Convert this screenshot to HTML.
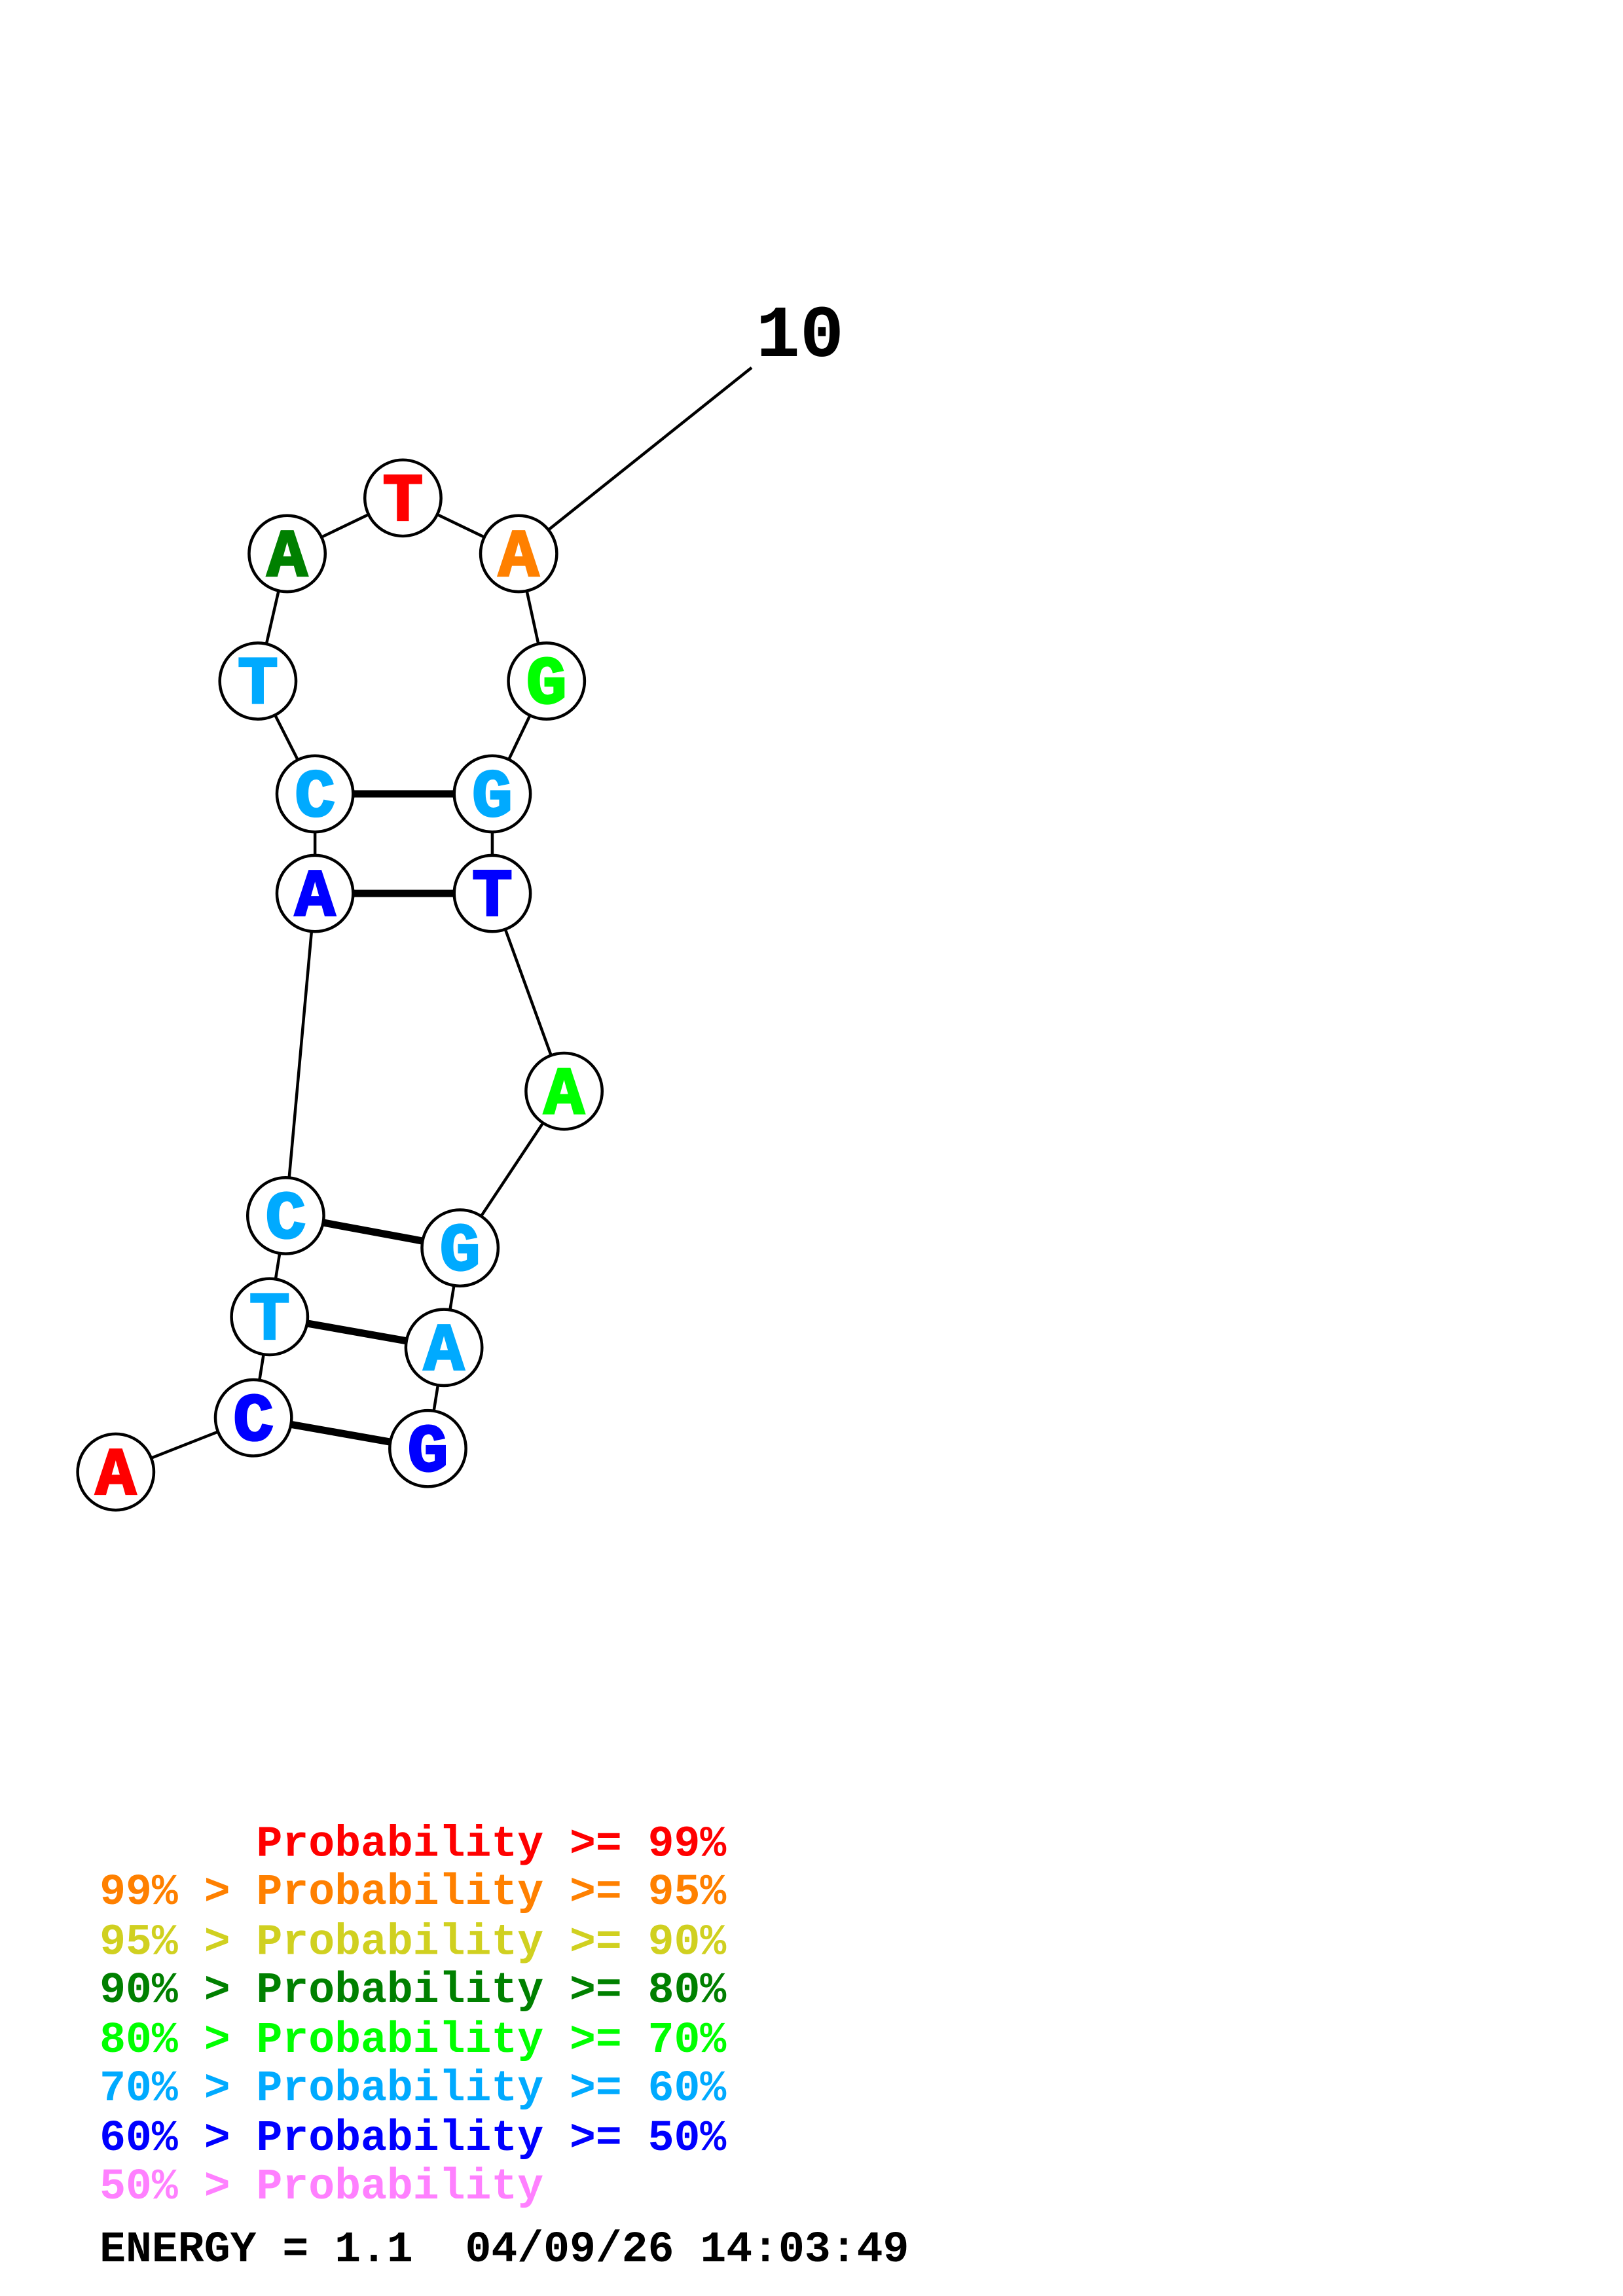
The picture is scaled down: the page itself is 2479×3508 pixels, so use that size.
<!DOCTYPE html>
<html><head><meta charset="utf-8"><style>html,body{margin:0;padding:0;background:#fff}svg{display:block}.pre{white-space:pre}</style></head>
<body>
<svg xmlns="http://www.w3.org/2000/svg" width="2479" height="3508" viewBox="0 0 1100 1556.6">
<rect width="1100" height="1556.6" fill="#fff"/>
<g transform="scale(0.993)">
<g stroke="#000" stroke-width="2" fill="none">
<polyline points="79,1005 173,968 184,899 195,830 215,610 215,542 176,465 196,378 275,340 354,378 373,465 336,542 336,610 385,745 314,852 303,920 292,989"/>
<line x1="354" y1="378" x2="513" y2="251"/>
</g>
<g stroke="#000" stroke-width="5">
<line x1="215" y1="542" x2="336" y2="542"/>
<line x1="215" y1="610" x2="336" y2="610"/>
<line x1="195" y1="830" x2="314" y2="852"/>
<line x1="184" y1="899" x2="303" y2="920"/>
<line x1="173" y1="968" x2="292" y2="989"/>
</g>
<g stroke="#000" stroke-width="2" fill="#fff">
<circle cx="79" cy="1005" r="26"/><circle cx="173" cy="968" r="26"/><circle cx="184" cy="899" r="26"/><circle cx="195" cy="830" r="26"/>
<circle cx="215" cy="610" r="26"/><circle cx="215" cy="542" r="26"/><circle cx="176" cy="465" r="26"/><circle cx="196" cy="378" r="26"/>
<circle cx="275" cy="340" r="26"/><circle cx="354" cy="378" r="26"/><circle cx="373" cy="465" r="26"/><circle cx="336" cy="542" r="26"/>
<circle cx="336" cy="610" r="26"/><circle cx="385" cy="745" r="26"/><circle cx="314" cy="852" r="26"/><circle cx="303" cy="920" r="26"/><circle cx="292" cy="989" r="26"/>
</g>
<g font-family="'Liberation Mono', monospace" font-weight="bold" font-size="46" text-anchor="middle" stroke-width="1.5">
<text x="79" y="1020" fill="#ff0000" stroke="#ff0000">A</text>
<text x="173" y="983" fill="#0000ff" stroke="#0000ff">C</text>
<text x="184" y="914" fill="#00aaff" stroke="#00aaff">T</text>
<text x="195" y="845" fill="#00aaff" stroke="#00aaff">C</text>
<text x="215" y="625" fill="#0000ff" stroke="#0000ff">A</text>
<text x="215" y="557" fill="#00aaff" stroke="#00aaff">C</text>
<text x="176" y="480" fill="#00aaff" stroke="#00aaff">T</text>
<text x="196" y="393" fill="#008000" stroke="#008000">A</text>
<text x="275" y="355" fill="#ff0000" stroke="#ff0000">T</text>
<text x="354" y="393" fill="#ff8000" stroke="#ff8000">A</text>
<text x="373" y="480" fill="#00ff00" stroke="#00ff00">G</text>
<text x="336" y="557" fill="#00aaff" stroke="#00aaff">G</text>
<text x="336" y="625" fill="#0000ff" stroke="#0000ff">T</text>
<text x="385" y="760" fill="#00ff00" stroke="#00ff00">A</text>
<text x="314" y="867" fill="#00aaff" stroke="#00aaff">G</text>
<text x="303" y="935" fill="#00aaff" stroke="#00aaff">A</text>
<text x="292" y="1004" fill="#0000ff" stroke="#0000ff">G</text>
</g>
<text x="516" y="243" font-family="'Liberation Mono', monospace" font-weight="bold" font-size="50" fill="#000">10</text>
<g font-family="'Liberation Mono', monospace" font-weight="bold" font-size="29.7" class="pre">
<text class="pre" x="68" y="1267" fill="#ff0000">      Probability &gt;= 99%</text>
<text class="pre" x="68" y="1300" fill="#ff8000">99% &gt; Probability &gt;= 95%</text>
<text class="pre" x="68" y="1334" fill="#d0d020">95% &gt; Probability &gt;= 90%</text>
<text class="pre" x="68" y="1367" fill="#008000">90% &gt; Probability &gt;= 80%</text>
<text class="pre" x="68" y="1401" fill="#00ff00">80% &gt; Probability &gt;= 70%</text>
<text class="pre" x="68" y="1434" fill="#00aaff">70% &gt; Probability &gt;= 60%</text>
<text class="pre" x="68" y="1468" fill="#0000ff">60% &gt; Probability &gt;= 50%</text>
<text class="pre" x="68" y="1501" fill="#ff80ff">50% &gt; Probability</text>
<text class="pre" x="68" y="1544" fill="#000">ENERGY = 1.1  04/09/26 14:03:49</text>
</g>
</g>
</svg>
</body></html>
